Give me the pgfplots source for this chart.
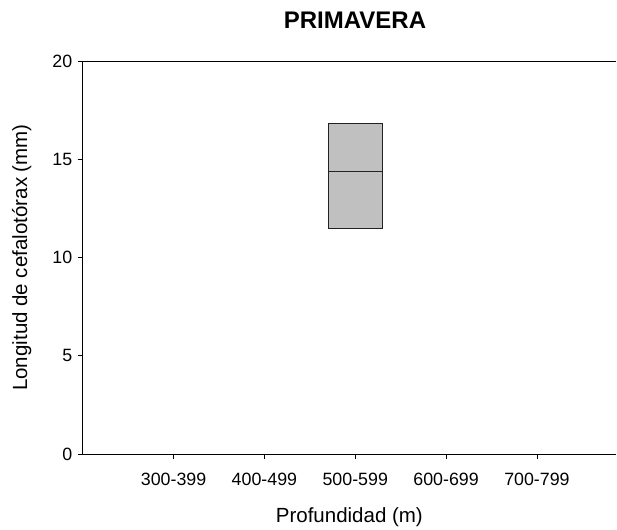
\documentclass[border=0pt]{standalone}
\usepackage{fontspec}
\setmainfont{Liberation Sans}
\usepackage{pgfplots}
\pgfplotsset{compat=1.18}

\definecolor{boxfill}{HTML}{C0C0C0}
\definecolor{boxline}{HTML}{222222}

\begin{document}
\begin{tikzpicture}
\path[use as bounding box] (-82.7pt,-75pt) rectangle (534.3pt,454pt);
\begin{axis}[
  at={(0pt,0pt)}, anchor=south west,
  scale only axis,
  width=533.3pt, height=393pt,
  xmin=0, xmax=5.87,
  ymin=0, ymax=20,
  axis x line*=bottom, axis y line*=left,
  axis line style={-, line width=0.9pt, black},
  tick align=outside,
  major tick length=5pt,
  every tick/.style={black, line width=0.9pt},
  xtick={1,2,3,4,5},
  xticklabels={300-399,400-499,500-599,600-699,700-799},
  ytick={0,5,10,15,20},
  minor tick num=0,
  /pgf/number format/assume math mode=true,
  tick label style={font=\fontsize{17.8}{20}\selectfont},
  xticklabel style={yshift=-11pt},
  yticklabel style={xshift=-2pt},
  label style={font=\fontsize{20.5}{24}\selectfont},
  xlabel={Profundidad (m)},
  ylabel={Longitud de cefalotórax (mm)},
  xlabel style={yshift=-15pt},
  ylabel style={yshift=14pt},
  clip=false,
]
  % spring sample, depth class 500-599 m: interquartile box (11.46 to 16.82)
  \addplot[draw=boxline, line width=0.9pt, fill=boxfill]
    coordinates {(2.7,11.46) (3.3,11.46) (3.3,16.82) (2.7,16.82)} -- cycle;
  % median
  \addplot[draw=boxline, line width=0.9pt]
    coordinates {(2.7,14.40) (3.3,14.40)};
  % top border of the frame
  \draw[line width=0.9pt, black] (rel axis cs:0,1) -- (rel axis cs:1,1);
\end{axis}
\node[font=\bfseries\fontsize{24}{26}\selectfont] at (272.3pt,434pt) {PRIMAVERA};
\end{tikzpicture}
\end{document}
